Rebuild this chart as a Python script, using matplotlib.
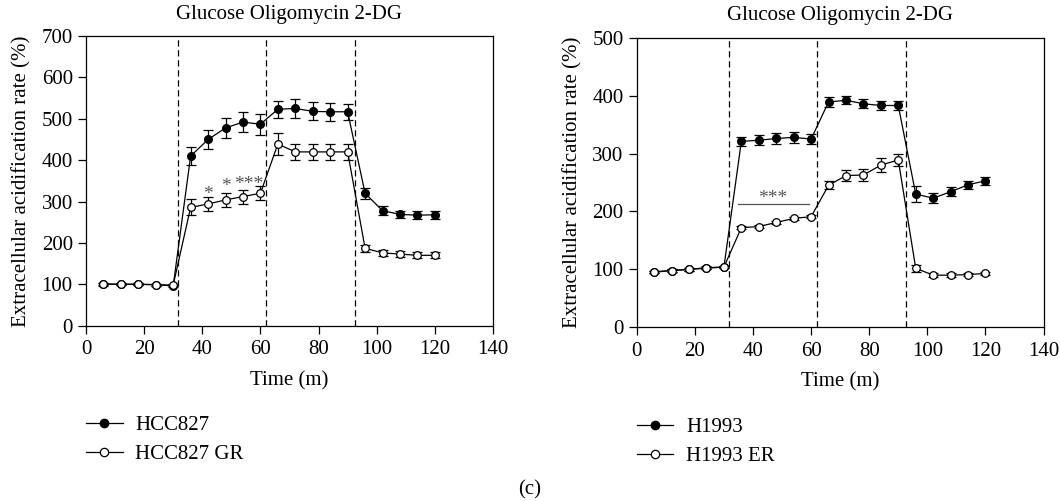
import matplotlib.pyplot as plt
from matplotlib.lines import Line2D

plt.rcParams['font.family'] = ['Liberation Serif', 'DejaVu Serif']
plt.rcParams['font.size'] = 15

# time points (minutes)
time = [6, 12, 18, 24, 30, 36, 42, 48, 54, 60, 66, 72, 78, 84, 90, 96, 102, 108, 114, 120]
injections = [31.7, 62, 92.5]

# left panel: HCC827 vs HCC827 GR
hcc827 = [101, 100, 100, 99, 96, 410, 450, 478, 492, 487, 523, 525, 518, 517, 517, 320, 278, 269, 267, 268]
hcc827_err = [3, 2, 2, 2, 3, 22, 23, 25, 25, 25, 20, 22, 22, 22, 20, 13, 11, 9, 9, 10]
hcc827_gr = [100, 100, 100, 99, 98, 286, 294, 304, 312, 320, 439, 420, 420, 420, 420, 187, 176, 173, 170, 170]
hcc827_gr_err = [3, 2, 2, 2, 3, 19, 16, 17, 17, 17, 26, 20, 20, 20, 20, 8, 8, 8, 7, 7]
left_stars = [(42, 316, '*'), (48, 336, '*'), (56, 340, '***')]

# right panel: H1993 vs H1993 ER
h1993 = [96, 98, 100, 103, 104, 321, 323, 326, 328, 325, 389, 392, 386, 383, 383, 230, 223, 234, 246, 253]
h1993_err = [2, 2, 2, 2, 2, 8, 9, 10, 10, 9, 9, 7, 8, 8, 7, 14, 9, 8, 7, 7]
h1993_er = [95, 98, 100, 102, 104, 172, 174, 181, 188, 191, 245, 262, 263, 280, 289, 102, 90, 90, 91, 93]
h1993_er_err = [2, 2, 2, 2, 2, 3, 3, 3, 3, 3, 7, 10, 10, 12, 11, 6, 3, 3, 3, 3]


def draw_panel(ax, filled, filled_err, hollow, hollow_err, labels, ymax):
    ax.errorbar(time, filled, yerr=filled_err, color='black', marker='o', ms=5.5,
                mfc='black', mec='black', lw=0.9, elinewidth=0.9, capsize=3.5,
                capthick=0.9, zorder=3)
    ax.errorbar(time, hollow, yerr=hollow_err, color='black', marker='o', ms=5.5,
                mfc='white', mec='black', mew=0.9, lw=0.9, elinewidth=0.9, capsize=3.5,
                capthick=0.9, zorder=4)
    for x in injections:
        ax.axvline(x, color='black', ls=(0, (5, 3)), lw=0.9, zorder=1)
    ax.set_xlim(0, 140)
    ax.set_ylim(0, ymax)
    ax.set_xticks(range(0, 141, 20))
    ax.set_yticks(range(0, ymax + 1, 100))
    ax.tick_params(direction='out', length=5.5, width=0.9, top=False, right=False, labelsize=15)
    ax.tick_params(axis='x', pad=5)
    ax.tick_params(axis='y', pad=4)
    for s in ax.spines.values():
        s.set_linewidth(0.9)
    ax.set_xlabel('Time (m)', fontsize=15, labelpad=8.5)
    ax.set_ylabel('Extracellular acidification rate (%)', fontsize=15, labelpad=7)
    ax.set_title('Glucose Oligomycin 2-DG', fontsize=15, pad=12.5)
    handles = [
        Line2D([], [], color='black', lw=0.9, marker='o', ms=6, mfc='black', mec='black'),
        Line2D([], [], color='black', lw=0.9, marker='o', ms=6, mfc='white', mec='black', mew=0.9),
    ]
    ax.legend(handles, labels, loc='upper left', bbox_to_anchor=(-0.02, -0.282), frameon=False,
              handlelength=1.75, handletextpad=0.6, labelspacing=0.45, fontsize=15,
              borderaxespad=0)


fig = plt.figure(figsize=(10.6, 5.01), dpi=100)
ax1 = fig.add_axes([0.0811, 0.350, 0.384, 0.578])
ax2 = fig.add_axes([0.6007, 0.3467, 0.3838, 0.578])

draw_panel(ax1, hcc827, hcc827_err, hcc827_gr, hcc827_gr_err, ['HCC827', 'HCC827 GR'], 700)
draw_panel(ax2, h1993, h1993_err, h1993_er, h1993_er_err, ['H1993', 'H1993 ER'], 500)

for x, y, s in left_stars:
    ax1.text(x, y, s, ha='center', va='center', color='#555555', fontsize=14)

ax2.plot([34.8, 59.4], [213, 213], color='#555555', lw=0.9)
ax2.text(46.8, 222, '***', ha='center', va='center', color='#555555', fontsize=14)

fig.text(0.5, 0.022, '(c)', ha='center', va='center', fontsize=15)

fig.savefig('out.png', dpi=100)
